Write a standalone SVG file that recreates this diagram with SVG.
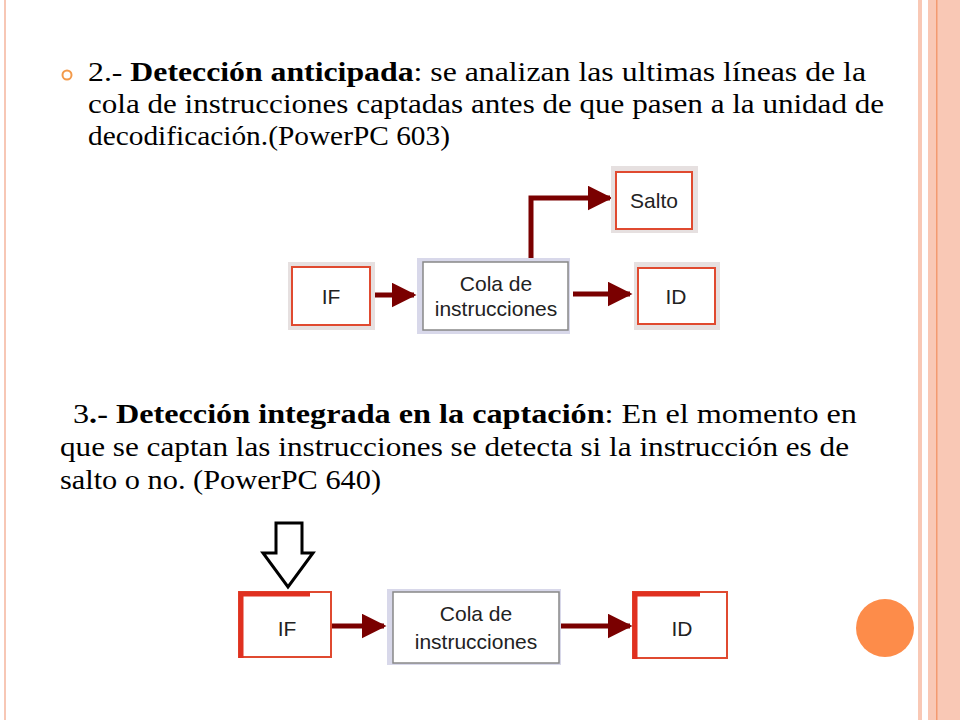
<svg xmlns="http://www.w3.org/2000/svg" width="960" height="720" viewBox="0 0 960 720">
<defs>
<style>
.t{font-family:"Liberation Serif",serif;font-size:27px;fill:#000}
.n{font-family:"Liberation Sans","DejaVu Sans",sans-serif;font-size:21px;fill:#222;text-anchor:middle}
.sh{fill:#e6e0e0}
.rb{fill:#fff;stroke:#e04a30;stroke-width:2}
.bb{fill:#fff;stroke:#888;stroke-width:1.5}
.c{stroke:#7a0000;stroke-width:5;fill:none}
</style>
<marker id="ah" markerWidth="5" markerHeight="5" refX="4.5" refY="2.5" orient="auto" markerUnits="strokeWidth"><path d="M0,0 L5,2.5 L0,5 Z" fill="#7a0000"/></marker>
</defs>
<rect width="960" height="720" fill="#fff"/>
<rect x="4" y="0" width="2" height="720" fill="#f7c7b5"/>
<rect x="918" y="0" width="4" height="720" fill="#f9c8b5"/>
<rect x="928" y="0" width="32" height="720" fill="#f9c8b5"/>
<rect x="936" y="0" width="1.5" height="720" fill="#f39a70"/>
<circle cx="67" cy="75" r="4.5" fill="none" stroke="#f39a4a" stroke-width="2"/>
<text class="t" x="88" y="81" textLength="778" lengthAdjust="spacingAndGlyphs">2.- <tspan font-weight="bold">Detección anticipada</tspan>: se analizan las ultimas líneas de la</text>
<text class="t" x="88" y="113" textLength="796" lengthAdjust="spacingAndGlyphs">cola de instrucciones captadas antes de que pasen a la unidad de</text>
<text class="t" x="88" y="145" textLength="362" lengthAdjust="spacingAndGlyphs">decodificación.(PowerPC 603)</text>
<text class="t" x="73" y="423" textLength="784" lengthAdjust="spacingAndGlyphs">3<tspan font-weight="bold">.-  Detección integrada en la captación</tspan>: En el momento en</text>
<text class="t" x="60" y="456" textLength="789" lengthAdjust="spacingAndGlyphs">que se captan las  instrucciones se detecta si la instrucción es de</text>
<text class="t" x="60" y="489" textLength="321" lengthAdjust="spacingAndGlyphs">salto o no.  (PowerPC 640)</text>
<g id="connectors">
<path class="c" d="M374,295 H414" marker-end="url(#ah)"/>
<path class="c" d="M573,294 H630" marker-end="url(#ah)"/>
<path class="c" d="M531,258 V198 H610" marker-end="url(#ah)"/>
<path class="c" d="M332,626 H384" marker-end="url(#ah)"/>
<path class="c" d="M561,626 H630" marker-end="url(#ah)"/>
</g>
<g id="if1"><rect class="sh" x="288" y="262" width="87" height="68"/><rect class="rb" x="292" y="267" width="78" height="58"/><text class="n" x="331" y="304">IF</text></g>
<g id="cola1"><rect x="417" y="258" width="153" height="76" fill="#d8d8ea"/><rect class="bb" x="423" y="262" width="145" height="68"/><text class="n" x="496" y="291">Cola de</text><text class="n" x="496" y="316">instrucciones</text></g>
<g id="salto"><rect class="sh" x="611" y="166" width="87" height="67"/><rect class="rb" x="616" y="172" width="76" height="57"/><text class="n" x="654" y="208">Salto</text></g>
<g id="id1"><rect class="sh" x="634" y="262" width="86" height="68"/><rect class="rb" x="638" y="268" width="77" height="56"/><text class="n" x="676" y="304">ID</text></g>
<g id="arrowdown"><path d="M276,523 H302 V553 H313 L288,587 L263,553 H276 Z" fill="#fff" stroke="#000" stroke-width="3" stroke-linejoin="miter"/></g>
<g id="if2"><rect x="239" y="592" width="92" height="65" fill="#fff" stroke="#e04a30" stroke-width="2"/><path d="M241,658 V594 H310" fill="none" stroke="#e03020" stroke-width="5"/><text class="n" x="287" y="636" font-size="24">IF</text></g>
<g id="cola2"><rect x="387" y="589" width="174" height="76" fill="#d8d8ea"/><rect class="bb" x="393" y="592" width="166" height="71"/><text class="n" x="476" y="621" font-size="24">Cola de</text><text class="n" x="476" y="649" font-size="24">instrucciones</text></g>
<g id="id2"><rect x="633" y="592" width="94" height="66" fill="#fff" stroke="#e04a30" stroke-width="2"/><path d="M635,659 V594 H700" fill="none" stroke="#e03020" stroke-width="5"/><text class="n" x="682" y="636" font-size="24">ID</text></g>
<circle cx="885" cy="628" r="29" fill="#fd8c4a"/>
</svg>
